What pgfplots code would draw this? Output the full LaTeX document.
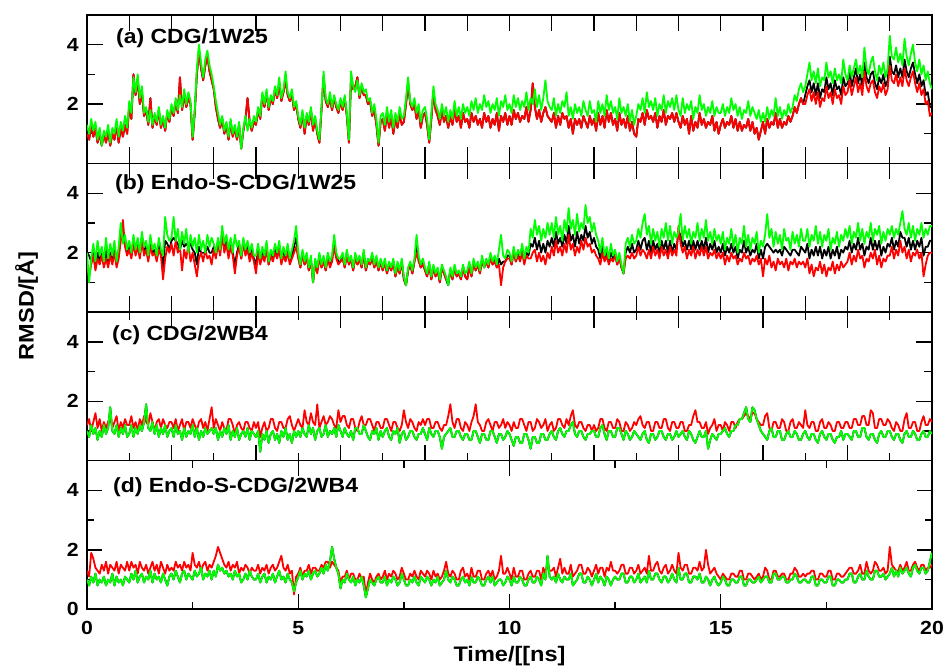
\documentclass[border=0pt]{standalone}
\usepackage{pgfplots}
\pgfplotsset{compat=1.18}
\usepackage{pgfplotstable}
\usepackage{fontspec}
\setmainfont{Liberation Sans}[FakeStretch=1.12]

\definecolor{rd}{RGB}{255,0,0}
\definecolor{gr}{RGB}{0,255,0}

% RMSD traces: one value every 0.05 ns from 0 to 20 ns (401 values each)
% ---------- (a) CDG/1W25 ----------
\pgfplotstableread[row sep=\\]{y\\
1.0\\ 0.8\\ 1.3\\ 0.9\\ 1.2\\ 0.7\\ 1.0\\ 0.6\\ 1.0\\ 0.7\\ 1.1\\ 0.6\\ 1.0\\ 0.8\\ 1.3\\ 0.7\\ 1.2\\ 0.9\\ 1.3\\ 1.0\\
1.9\\ 1.5\\ 3.0\\ 2.3\\ 2.8\\ 2.0\\ 2.4\\ 1.6\\ 1.8\\ 1.3\\ 2.2\\ 1.2\\ 1.6\\ 1.3\\ 1.8\\ 1.2\\ 1.5\\ 1.1\\ 1.7\\ 1.4\\
1.9\\ 1.6\\ 2.1\\ 1.7\\ 2.9\\ 1.8\\ 2.3\\ 1.9\\ 2.2\\ 2.0\\ 0.8\\ 1.7\\ 3.0\\ 3.8\\ 3.2\\ 2.8\\ 3.3\\ 3.6\\ 3.1\\ 2.8\\
2.5\\ 1.9\\ 1.5\\ 1.2\\ 1.5\\ 1.0\\ 1.3\\ 0.8\\ 1.4\\ 0.9\\ 1.2\\ 0.8\\ 1.3\\ 0.5\\ 1.1\\ 1.5\\ 2.2\\ 1.4\\ 1.1\\ 1.4\\
1.3\\ 1.8\\ 1.5\\ 2.3\\ 1.9\\ 2.4\\ 1.8\\ 2.2\\ 2.0\\ 2.5\\ 2.2\\ 2.7\\ 2.1\\ 2.4\\ 2.8\\ 2.3\\ 2.1\\ 2.3\\ 1.8\\ 2.0\\
1.5\\ 1.2\\ 1.7\\ 1.0\\ 1.6\\ 1.3\\ 1.8\\ 1.1\\ 1.5\\ 1.0\\ 0.7\\ 1.8\\ 2.9\\ 2.1\\ 1.9\\ 2.2\\ 1.8\\ 2.2\\ 1.9\\ 1.7\\
2.1\\ 1.8\\ 2.2\\ 1.6\\ 0.7\\ 2.9\\ 2.5\\ 2.6\\ 2.9\\ 2.2\\ 2.6\\ 2.3\\ 2.3\\ 2.0\\ 2.1\\ 1.6\\ 1.8\\ 1.3\\ 0.6\\ 1.4\\
1.5\\ 1.1\\ 1.7\\ 1.2\\ 1.6\\ 1.0\\ 1.5\\ 1.2\\ 1.7\\ 1.3\\ 1.4\\ 2.0\\ 2.7\\ 2.0\\ 1.8\\ 2.0\\ 1.5\\ 1.8\\ 1.2\\ 1.6\\
1.7\\ 1.3\\ 0.7\\ 1.5\\ 2.4\\ 1.8\\ 1.6\\ 1.3\\ 1.8\\ 1.4\\ 1.6\\ 1.2\\ 1.6\\ 1.3\\ 1.8\\ 1.4\\ 1.6\\ 1.2\\ 1.7\\ 1.4\\
1.5\\ 1.2\\ 1.7\\ 1.4\\ 1.6\\ 1.3\\ 1.5\\ 1.2\\ 1.7\\ 1.4\\ 1.6\\ 1.2\\ 1.5\\ 1.3\\ 1.7\\ 1.1\\ 1.6\\ 1.4\\ 1.7\\ 1.3\\
1.6\\ 1.3\\ 1.8\\ 1.5\\ 1.7\\ 1.4\\ 1.6\\ 1.5\\ 1.9\\ 1.4\\ 1.8\\ 2.7\\ 1.9\\ 1.5\\ 1.8\\ 1.4\\ 1.7\\ 1.9\\ 1.6\\ 1.5\\
1.4\\ 1.7\\ 1.2\\ 1.6\\ 1.3\\ 1.7\\ 1.5\\ 1.6\\ 1.2\\ 1.5\\ 1.0\\ 1.5\\ 1.3\\ 1.5\\ 1.2\\ 1.6\\ 1.4\\ 1.2\\ 1.6\\ 1.3\\
1.5\\ 1.1\\ 1.7\\ 1.3\\ 1.6\\ 1.2\\ 1.8\\ 1.4\\ 1.7\\ 1.3\\ 1.5\\ 1.1\\ 1.7\\ 1.3\\ 1.5\\ 1.2\\ 1.6\\ 1.1\\ 1.4\\ 1.0\\
0.9\\ 1.5\\ 1.4\\ 1.7\\ 1.3\\ 1.8\\ 1.5\\ 1.6\\ 1.4\\ 1.7\\ 1.2\\ 1.6\\ 1.4\\ 1.8\\ 1.3\\ 1.6\\ 1.5\\ 1.7\\ 1.4\\ 1.7\\
1.4\\ 1.2\\ 1.6\\ 1.3\\ 1.5\\ 1.0\\ 1.6\\ 1.1\\ 1.4\\ 1.2\\ 1.7\\ 1.3\\ 1.5\\ 1.2\\ 1.4\\ 1.3\\ 1.6\\ 1.1\\ 1.4\\ 1.0\\
1.3\\ 1.5\\ 1.2\\ 1.4\\ 1.3\\ 1.6\\ 1.2\\ 1.5\\ 1.1\\ 1.4\\ 1.1\\ 1.3\\ 1.2\\ 1.5\\ 1.1\\ 1.4\\ 1.0\\ 1.2\\ 0.8\\ 1.1\\
1.4\\ 1.0\\ 1.5\\ 1.2\\ 1.4\\ 1.3\\ 1.7\\ 1.2\\ 1.5\\ 1.2\\ 1.4\\ 1.3\\ 1.6\\ 1.4\\ 1.6\\ 1.9\\ 1.7\\ 2.0\\ 2.2\\ 2.0\\
2.3\\ 2.6\\ 2.8\\ 2.4\\ 2.7\\ 2.3\\ 2.7\\ 2.2\\ 2.5\\ 2.4\\ 2.9\\ 2.5\\ 2.7\\ 2.3\\ 2.8\\ 2.5\\ 2.6\\ 2.3\\ 2.9\\ 2.6\\
2.7\\ 3.1\\ 2.6\\ 2.9\\ 3.2\\ 2.7\\ 3.0\\ 2.6\\ 3.4\\ 2.9\\ 2.7\\ 3.0\\ 3.1\\ 2.7\\ 2.5\\ 2.9\\ 2.7\\ 3.0\\ 2.6\\ 2.8\\
3.6\\ 3.1\\ 3.0\\ 3.3\\ 2.9\\ 3.2\\ 2.9\\ 3.5\\ 3.1\\ 2.9\\ 3.2\\ 3.4\\ 3.0\\ 2.7\\ 3.0\\ 2.6\\ 2.8\\ 2.3\\ 2.4\\ 1.9\\
1.9\\}\aK
\pgfplotstableread[row sep=\\]{y\\
1.0\\ 0.8\\ 1.3\\ 0.9\\ 1.2\\ 0.7\\ 1.0\\ 0.6\\ 1.0\\ 0.7\\ 1.1\\ 0.6\\ 1.0\\ 0.8\\ 1.3\\ 0.7\\ 1.2\\ 0.9\\ 1.3\\ 1.0\\
1.9\\ 1.5\\ 3.0\\ 2.3\\ 2.8\\ 2.0\\ 2.4\\ 1.6\\ 1.8\\ 1.3\\ 2.2\\ 1.2\\ 1.6\\ 1.3\\ 1.8\\ 1.2\\ 1.5\\ 1.1\\ 1.7\\ 1.4\\
1.9\\ 1.6\\ 2.1\\ 1.7\\ 2.9\\ 1.8\\ 2.3\\ 1.9\\ 2.2\\ 2.0\\ 0.8\\ 1.7\\ 3.0\\ 3.8\\ 3.2\\ 2.8\\ 3.3\\ 3.6\\ 3.1\\ 2.8\\
2.5\\ 1.9\\ 1.5\\ 1.2\\ 1.5\\ 1.0\\ 1.3\\ 0.8\\ 1.4\\ 0.9\\ 1.2\\ 0.8\\ 1.3\\ 0.5\\ 1.1\\ 1.5\\ 2.2\\ 1.4\\ 1.1\\ 1.4\\
1.3\\ 1.8\\ 1.5\\ 2.3\\ 1.9\\ 2.4\\ 1.8\\ 2.2\\ 2.0\\ 2.5\\ 2.2\\ 2.7\\ 2.1\\ 2.4\\ 2.8\\ 2.3\\ 2.1\\ 2.3\\ 1.8\\ 2.0\\
1.5\\ 1.2\\ 1.7\\ 1.0\\ 1.6\\ 1.3\\ 1.8\\ 1.1\\ 1.5\\ 1.0\\ 0.7\\ 1.8\\ 2.9\\ 2.1\\ 1.9\\ 2.2\\ 1.8\\ 2.2\\ 1.9\\ 1.7\\
2.1\\ 1.8\\ 2.2\\ 1.6\\ 0.7\\ 2.9\\ 2.5\\ 2.6\\ 2.9\\ 2.2\\ 2.6\\ 2.3\\ 2.3\\ 2.0\\ 2.1\\ 1.6\\ 1.8\\ 1.3\\ 0.6\\ 1.4\\
1.5\\ 1.1\\ 1.7\\ 1.2\\ 1.6\\ 1.0\\ 1.5\\ 1.2\\ 1.7\\ 1.3\\ 1.4\\ 2.0\\ 2.7\\ 2.0\\ 1.8\\ 2.0\\ 1.5\\ 1.8\\ 1.2\\ 1.6\\
1.7\\ 1.3\\ 0.7\\ 1.5\\ 2.4\\ 1.8\\ 1.6\\ 1.3\\ 1.8\\ 1.4\\ 1.6\\ 1.2\\ 1.6\\ 1.3\\ 1.8\\ 1.4\\ 1.6\\ 1.2\\ 1.7\\ 1.4\\
1.5\\ 1.2\\ 1.7\\ 1.4\\ 1.6\\ 1.3\\ 1.5\\ 1.2\\ 1.7\\ 1.4\\ 1.6\\ 1.2\\ 1.5\\ 1.3\\ 1.7\\ 1.1\\ 1.6\\ 1.4\\ 1.7\\ 1.3\\
1.6\\ 1.3\\ 1.8\\ 1.5\\ 1.7\\ 1.4\\ 1.6\\ 1.5\\ 1.9\\ 1.4\\ 1.8\\ 2.7\\ 1.9\\ 1.5\\ 1.8\\ 1.4\\ 1.7\\ 1.9\\ 1.6\\ 1.5\\
1.4\\ 1.7\\ 1.2\\ 1.6\\ 1.3\\ 1.7\\ 1.5\\ 1.6\\ 1.2\\ 1.5\\ 1.0\\ 1.5\\ 1.3\\ 1.5\\ 1.2\\ 1.6\\ 1.4\\ 1.2\\ 1.6\\ 1.3\\
1.5\\ 1.1\\ 1.7\\ 1.3\\ 1.6\\ 1.2\\ 1.8\\ 1.4\\ 1.7\\ 1.3\\ 1.5\\ 1.1\\ 1.7\\ 1.3\\ 1.5\\ 1.2\\ 1.6\\ 1.1\\ 1.4\\ 1.0\\
0.9\\ 1.5\\ 1.4\\ 1.7\\ 1.3\\ 1.8\\ 1.5\\ 1.6\\ 1.4\\ 1.7\\ 1.2\\ 1.6\\ 1.4\\ 1.8\\ 1.3\\ 1.6\\ 1.5\\ 1.7\\ 1.4\\ 1.7\\
1.4\\ 1.2\\ 1.6\\ 1.3\\ 1.5\\ 1.0\\ 1.6\\ 1.1\\ 1.4\\ 1.2\\ 1.7\\ 1.3\\ 1.5\\ 1.2\\ 1.4\\ 1.3\\ 1.6\\ 1.1\\ 1.4\\ 1.0\\
1.3\\ 1.5\\ 1.2\\ 1.4\\ 1.3\\ 1.6\\ 1.2\\ 1.5\\ 1.1\\ 1.4\\ 1.1\\ 1.3\\ 1.2\\ 1.5\\ 1.1\\ 1.4\\ 1.0\\ 1.2\\ 0.8\\ 1.1\\
1.4\\ 1.0\\ 1.5\\ 1.2\\ 1.4\\ 1.3\\ 1.7\\ 1.2\\ 1.5\\ 1.2\\ 1.4\\ 1.3\\ 1.6\\ 1.4\\ 1.6\\ 1.9\\ 1.7\\ 2.0\\ 2.2\\ 2.0\\
2.0\\ 2.3\\ 2.5\\ 2.1\\ 2.4\\ 2.0\\ 2.4\\ 1.9\\ 2.2\\ 2.1\\ 2.6\\ 2.2\\ 2.4\\ 2.0\\ 2.5\\ 2.2\\ 2.3\\ 2.0\\ 2.6\\ 2.3\\
2.4\\ 2.8\\ 2.3\\ 2.6\\ 2.9\\ 2.4\\ 2.7\\ 2.3\\ 3.1\\ 2.6\\ 2.4\\ 2.7\\ 2.8\\ 2.4\\ 2.2\\ 2.6\\ 2.4\\ 2.7\\ 2.3\\ 2.5\\
3.3\\ 2.8\\ 2.7\\ 3.0\\ 2.6\\ 2.9\\ 2.6\\ 3.2\\ 2.8\\ 2.6\\ 2.9\\ 3.1\\ 2.7\\ 2.4\\ 2.7\\ 2.3\\ 2.5\\ 2.0\\ 2.1\\ 1.6\\
1.7\\}\aR
\pgfplotstableread[row sep=\\]{y\\
1.3\\ 1.0\\ 1.5\\ 1.1\\ 1.4\\ 0.8\\ 1.2\\ 0.6\\ 1.1\\ 0.9\\ 1.3\\ 0.7\\ 1.2\\ 1.0\\ 1.5\\ 0.9\\ 1.4\\ 1.1\\ 1.6\\ 1.2\\
2.1\\ 1.7\\ 2.9\\ 2.4\\ 3.0\\ 2.2\\ 2.6\\ 1.7\\ 1.9\\ 1.4\\ 1.8\\ 1.3\\ 1.7\\ 1.4\\ 1.9\\ 1.3\\ 1.6\\ 1.2\\ 1.8\\ 1.5\\
2.0\\ 1.7\\ 2.2\\ 1.8\\ 2.3\\ 1.9\\ 2.5\\ 2.0\\ 2.4\\ 2.1\\ 0.9\\ 1.8\\ 3.2\\ 4.0\\ 3.4\\ 2.9\\ 3.5\\ 3.8\\ 3.3\\ 3.0\\
2.6\\ 2.1\\ 1.7\\ 1.3\\ 1.6\\ 1.1\\ 1.4\\ 0.9\\ 1.5\\ 1.0\\ 1.3\\ 0.9\\ 1.4\\ 0.5\\ 1.2\\ 1.6\\ 1.1\\ 1.5\\ 1.2\\ 1.6\\
1.4\\ 1.9\\ 1.6\\ 2.4\\ 2.0\\ 2.5\\ 1.9\\ 2.3\\ 2.1\\ 2.6\\ 2.3\\ 2.9\\ 2.2\\ 2.5\\ 3.1\\ 2.4\\ 2.2\\ 2.5\\ 1.9\\ 2.1\\
1.6\\ 1.3\\ 1.8\\ 1.2\\ 1.7\\ 1.4\\ 1.9\\ 1.3\\ 1.6\\ 1.1\\ 0.8\\ 1.9\\ 3.1\\ 2.2\\ 2.0\\ 2.4\\ 1.9\\ 2.3\\ 2.0\\ 1.8\\
2.2\\ 1.9\\ 2.3\\ 1.7\\ 0.8\\ 3.1\\ 2.6\\ 2.4\\ 2.8\\ 2.3\\ 2.7\\ 2.4\\ 2.5\\ 2.1\\ 2.2\\ 1.7\\ 2.0\\ 1.5\\ 0.7\\ 1.6\\
1.7\\ 1.3\\ 1.9\\ 1.4\\ 1.8\\ 1.2\\ 1.7\\ 1.4\\ 1.9\\ 1.5\\ 1.6\\ 2.2\\ 2.9\\ 2.1\\ 1.9\\ 2.2\\ 1.7\\ 2.0\\ 1.4\\ 1.8\\
1.9\\ 1.5\\ 0.8\\ 1.7\\ 2.6\\ 2.0\\ 1.8\\ 1.5\\ 2.0\\ 1.6\\ 1.9\\ 1.4\\ 1.8\\ 1.5\\ 2.1\\ 1.6\\ 1.9\\ 1.5\\ 2.0\\ 1.7\\
1.9\\ 1.6\\ 2.1\\ 1.8\\ 2.2\\ 1.7\\ 2.0\\ 1.8\\ 2.3\\ 1.9\\ 2.1\\ 1.7\\ 2.0\\ 1.8\\ 2.2\\ 1.6\\ 2.1\\ 1.9\\ 2.3\\ 1.8\\
2.0\\ 1.7\\ 2.3\\ 1.9\\ 2.2\\ 1.8\\ 2.1\\ 1.9\\ 2.4\\ 1.8\\ 2.2\\ 2.0\\ 2.5\\ 1.9\\ 2.3\\ 1.8\\ 2.2\\ 2.8\\ 2.1\\ 1.9\\
1.8\\ 2.2\\ 1.6\\ 2.0\\ 1.7\\ 2.1\\ 1.9\\ 2.4\\ 1.6\\ 1.9\\ 1.5\\ 2.0\\ 1.7\\ 1.9\\ 1.6\\ 2.1\\ 1.8\\ 1.6\\ 2.1\\ 1.7\\
1.8\\ 1.4\\ 2.1\\ 1.7\\ 2.0\\ 1.6\\ 2.3\\ 1.8\\ 2.1\\ 1.7\\ 1.9\\ 1.5\\ 2.2\\ 1.7\\ 1.9\\ 1.6\\ 2.0\\ 1.4\\ 1.8\\ 1.3\\
1.6\\ 2.0\\ 1.8\\ 2.2\\ 1.7\\ 2.4\\ 1.9\\ 2.1\\ 1.8\\ 2.2\\ 1.6\\ 2.0\\ 1.8\\ 2.3\\ 1.7\\ 2.1\\ 1.9\\ 2.2\\ 1.8\\ 2.3\\
1.8\\ 1.6\\ 2.2\\ 1.7\\ 2.0\\ 1.8\\ 2.1\\ 1.5\\ 1.9\\ 1.7\\ 2.3\\ 1.8\\ 2.0\\ 1.6\\ 1.9\\ 1.7\\ 2.1\\ 1.6\\ 1.9\\ 1.7\\
1.7\\ 2.0\\ 1.6\\ 1.9\\ 1.7\\ 2.2\\ 1.8\\ 2.0\\ 1.6\\ 1.9\\ 1.5\\ 1.8\\ 1.7\\ 2.1\\ 1.6\\ 1.9\\ 1.7\\ 1.5\\ 1.8\\ 1.4\\
1.7\\ 1.4\\ 1.9\\ 1.5\\ 1.8\\ 1.6\\ 2.2\\ 1.6\\ 1.9\\ 1.5\\ 1.8\\ 1.6\\ 2.0\\ 1.7\\ 1.9\\ 2.3\\ 2.1\\ 2.5\\ 2.7\\ 2.4\\
2.6\\ 3.0\\ 3.4\\ 2.8\\ 3.1\\ 2.7\\ 3.2\\ 2.6\\ 2.9\\ 2.8\\ 3.4\\ 2.9\\ 3.1\\ 2.7\\ 3.2\\ 2.8\\ 3.0\\ 2.7\\ 3.5\\ 3.0\\
2.8\\ 3.3\\ 2.9\\ 3.2\\ 3.5\\ 3.0\\ 3.3\\ 2.9\\ 3.9\\ 3.2\\ 3.0\\ 3.4\\ 3.6\\ 3.1\\ 2.8\\ 3.3\\ 3.0\\ 3.4\\ 2.9\\ 3.2\\
4.3\\ 3.6\\ 3.5\\ 3.9\\ 3.4\\ 3.7\\ 3.3\\ 4.2\\ 3.6\\ 3.3\\ 3.7\\ 4.0\\ 3.4\\ 3.1\\ 3.5\\ 3.0\\ 3.3\\ 2.8\\ 3.1\\ 2.7\\
2.5\\}\aG

% ---------- (b) Endo-S-CDG/1W25 ----------
\pgfplotstableread[row sep=\\]{y\\
2.0\\ 1.9\\ 1.7\\ 2.1\\ 1.5\\ 2.0\\ 1.7\\ 2.0\\ 1.6\\ 2.1\\ 1.6\\ 2.0\\ 1.7\\ 2.2\\ 1.6\\ 2.0\\ 2.6\\ 2.6\\ 2.3\\ 2.0\\
2.2\\ 1.9\\ 2.4\\ 2.0\\ 2.3\\ 1.9\\ 2.5\\ 2.0\\ 2.2\\ 1.8\\ 2.4\\ 2.0\\ 2.1\\ 1.8\\ 2.3\\ 2.0\\ 1.5\\ 2.4\\ 2.3\\ 2.1\\
2.4\\ 2.5\\ 2.4\\ 2.3\\ 2.1\\ 2.4\\ 2.2\\ 2.3\\ 2.2\\ 2.3\\ 2.1\\ 2.0\\ 1.6\\ 2.2\\ 2.0\\ 2.0\\ 2.0\\ 2.2\\ 2.0\\ 2.0\\
2.2\\ 1.9\\ 2.4\\ 2.0\\ 2.7\\ 2.1\\ 2.4\\ 1.9\\ 2.3\\ 2.0\\ 1.6\\ 2.0\\ 2.3\\ 1.8\\ 2.4\\ 2.0\\ 2.2\\ 1.8\\ 2.1\\ 1.8\\
1.6\\ 2.1\\ 1.7\\ 2.0\\ 1.8\\ 2.2\\ 1.6\\ 2.0\\ 1.8\\ 2.1\\ 1.9\\ 2.2\\ 1.7\\ 2.0\\ 1.8\\ 2.1\\ 1.7\\ 1.9\\ 2.2\\ 2.5\\
1.9\\ 1.5\\ 2.0\\ 1.6\\ 1.9\\ 1.4\\ 1.8\\ 1.0\\ 1.7\\ 1.4\\ 1.9\\ 1.5\\ 1.8\\ 1.4\\ 1.9\\ 1.6\\ 1.8\\ 2.4\\ 1.9\\ 1.7\\
1.7\\ 1.9\\ 1.5\\ 2.0\\ 1.6\\ 1.8\\ 1.4\\ 1.9\\ 1.6\\ 1.8\\ 1.5\\ 2.0\\ 1.4\\ 1.7\\ 1.6\\ 1.9\\ 1.5\\ 1.8\\ 1.4\\ 1.7\\
1.4\\ 1.7\\ 1.3\\ 1.6\\ 1.4\\ 1.7\\ 1.2\\ 1.6\\ 1.3\\ 1.7\\ 1.1\\ 0.9\\ 1.4\\ 1.6\\ 1.3\\ 1.7\\ 2.3\\ 1.8\\ 1.5\\ 1.7\\
1.4\\ 1.2\\ 1.6\\ 1.1\\ 1.5\\ 1.2\\ 1.4\\ 1.0\\ 1.5\\ 1.3\\ 1.1\\ 0.9\\ 1.4\\ 1.1\\ 1.5\\ 1.2\\ 1.3\\ 1.1\\ 1.5\\ 1.2\\
1.1\\ 1.6\\ 1.2\\ 1.7\\ 1.4\\ 1.6\\ 1.3\\ 1.8\\ 1.5\\ 1.7\\ 1.5\\ 1.9\\ 1.6\\ 1.8\\ 1.5\\ 1.8\\ 1.6\\ 1.7\\ 1.7\\ 1.9\\
1.9\\ 1.6\\ 2.1\\ 1.7\\ 2.0\\ 1.8\\ 2.1\\ 1.7\\ 2.0\\ 1.9\\ 2.3\\ 2.2\\ 2.5\\ 2.1\\ 2.4\\ 2.0\\ 2.3\\ 2.0\\ 2.4\\ 2.2\\
2.5\\ 2.2\\ 2.7\\ 2.3\\ 2.5\\ 2.2\\ 2.6\\ 2.3\\ 2.9\\ 2.4\\ 2.6\\ 2.2\\ 2.7\\ 2.3\\ 2.6\\ 2.4\\ 2.9\\ 2.5\\ 2.7\\ 2.3\\
2.5\\ 2.2\\ 2.1\\ 1.8\\ 2.2\\ 1.8\\ 2.0\\ 1.7\\ 2.0\\ 1.8\\ 2.0\\ 1.6\\ 1.9\\ 1.5\\ 1.3\\ 2.0\\ 2.2\\ 2.0\\ 2.3\\ 2.0\\
2.1\\ 2.4\\ 2.1\\ 2.4\\ 2.5\\ 2.1\\ 2.4\\ 2.0\\ 2.4\\ 2.1\\ 2.3\\ 2.0\\ 2.4\\ 2.1\\ 2.4\\ 2.0\\ 2.4\\ 2.0\\ 2.3\\ 2.1\\
2.7\\ 2.6\\ 2.2\\ 2.4\\ 2.1\\ 2.4\\ 2.1\\ 2.4\\ 2.1\\ 2.4\\ 2.1\\ 2.4\\ 2.1\\ 2.5\\ 2.0\\ 2.3\\ 2.1\\ 2.4\\ 2.0\\ 2.2\\
2.0\\ 2.3\\ 1.9\\ 2.2\\ 2.0\\ 2.3\\ 2.0\\ 2.2\\ 1.8\\ 2.1\\ 2.0\\ 2.4\\ 2.0\\ 2.2\\ 1.9\\ 2.1\\ 2.0\\ 2.3\\ 1.8\\ 2.1\\
1.8\\ 2.2\\ 2.3\\ 2.2\\ 2.1\\ 2.0\\ 2.1\\ 2.0\\ 2.1\\ 1.9\\ 2.2\\ 2.1\\ 2.0\\ 1.9\\ 2.1\\ 2.1\\ 2.0\\ 1.9\\ 2.2\\ 2.1\\
2.0\\ 2.3\\ 1.8\\ 2.1\\ 1.9\\ 2.2\\ 1.9\\ 2.2\\ 1.8\\ 2.1\\ 1.9\\ 2.2\\ 1.8\\ 2.1\\ 1.9\\ 2.2\\ 1.8\\ 2.1\\ 2.0\\ 2.2\\
2.1\\ 2.4\\ 2.0\\ 2.3\\ 2.1\\ 2.5\\ 2.1\\ 2.3\\ 1.9\\ 2.2\\ 2.1\\ 2.5\\ 2.1\\ 2.4\\ 2.1\\ 2.4\\ 1.9\\ 2.2\\ 2.0\\ 2.3\\
2.2\\ 2.5\\ 2.1\\ 2.4\\ 2.2\\ 2.7\\ 2.5\\ 2.5\\ 2.2\\ 2.5\\ 2.1\\ 2.4\\ 2.1\\ 2.4\\ 2.2\\ 2.5\\ 1.9\\ 2.2\\ 2.2\\ 2.4\\
2.4\\}\bK
\pgfplotstableread[row sep=\\]{y\\
1.5\\ 1.2\\ 1.6\\ 1.9\\ 1.4\\ 1.8\\ 1.6\\ 1.9\\ 1.5\\ 1.8\\ 1.5\\ 1.9\\ 1.6\\ 2.0\\ 1.5\\ 1.8\\ 2.4\\ 3.1\\ 2.2\\ 1.9\\
2.1\\ 1.8\\ 2.3\\ 1.9\\ 2.2\\ 1.8\\ 2.4\\ 1.9\\ 2.1\\ 1.7\\ 2.2\\ 1.9\\ 2.0\\ 1.7\\ 2.1\\ 1.9\\ 1.1\\ 1.8\\ 2.2\\ 2.0\\
2.3\\ 1.9\\ 2.4\\ 2.0\\ 2.2\\ 1.4\\ 2.1\\ 1.8\\ 2.3\\ 1.7\\ 2.0\\ 1.6\\ 1.2\\ 1.8\\ 2.0\\ 1.7\\ 2.1\\ 1.8\\ 1.9\\ 1.6\\
2.1\\ 1.8\\ 2.3\\ 1.9\\ 2.6\\ 2.0\\ 2.3\\ 1.8\\ 2.2\\ 1.9\\ 1.3\\ 1.9\\ 2.2\\ 1.8\\ 2.3\\ 1.9\\ 2.1\\ 1.7\\ 2.0\\ 1.7\\
1.3\\ 2.0\\ 1.6\\ 1.9\\ 1.7\\ 2.1\\ 1.6\\ 1.9\\ 1.7\\ 2.0\\ 1.8\\ 2.1\\ 1.6\\ 1.9\\ 1.7\\ 2.0\\ 1.6\\ 1.8\\ 2.0\\ 2.2\\
1.8\\ 1.5\\ 1.9\\ 1.6\\ 1.8\\ 1.4\\ 1.7\\ 1.0\\ 1.6\\ 1.3\\ 1.8\\ 1.5\\ 1.7\\ 1.4\\ 1.8\\ 1.5\\ 1.7\\ 2.2\\ 1.8\\ 1.6\\
1.7\\ 1.8\\ 1.5\\ 1.9\\ 1.6\\ 1.8\\ 1.4\\ 1.8\\ 1.6\\ 1.8\\ 1.5\\ 1.9\\ 1.4\\ 1.7\\ 1.6\\ 1.8\\ 1.5\\ 1.7\\ 1.4\\ 1.7\\
1.4\\ 1.7\\ 1.3\\ 1.6\\ 1.4\\ 1.7\\ 1.2\\ 1.5\\ 1.3\\ 1.7\\ 1.1\\ 0.9\\ 1.4\\ 1.6\\ 1.3\\ 1.7\\ 2.0\\ 1.7\\ 1.5\\ 1.6\\
1.4\\ 1.2\\ 1.6\\ 1.1\\ 1.5\\ 1.2\\ 1.4\\ 1.0\\ 1.5\\ 1.3\\ 1.1\\ 1.0\\ 1.4\\ 1.1\\ 1.5\\ 1.2\\ 1.3\\ 1.1\\ 1.5\\ 1.2\\
1.1\\ 1.5\\ 1.2\\ 1.6\\ 1.4\\ 1.6\\ 1.3\\ 1.7\\ 1.5\\ 1.7\\ 1.5\\ 1.8\\ 1.6\\ 1.7\\ 1.5\\ 1.6\\ 0.9\\ 1.5\\ 1.7\\ 1.8\\
1.8\\ 1.6\\ 2.0\\ 1.7\\ 1.9\\ 1.7\\ 2.0\\ 1.6\\ 1.9\\ 1.8\\ 1.8\\ 2.0\\ 2.1\\ 1.7\\ 2.0\\ 1.7\\ 1.9\\ 1.6\\ 2.0\\ 1.8\\
2.2\\ 1.9\\ 2.4\\ 2.0\\ 2.2\\ 1.9\\ 2.3\\ 2.0\\ 2.6\\ 2.1\\ 2.3\\ 1.9\\ 2.2\\ 2.0\\ 2.4\\ 2.1\\ 2.5\\ 2.2\\ 2.3\\ 2.0\\
2.1\\ 1.9\\ 1.8\\ 1.6\\ 2.0\\ 1.7\\ 1.9\\ 1.6\\ 1.8\\ 1.7\\ 1.9\\ 1.6\\ 1.8\\ 1.5\\ 1.3\\ 1.8\\ 1.9\\ 1.8\\ 2.0\\ 1.8\\
1.9\\ 2.2\\ 1.9\\ 2.1\\ 2.0\\ 1.8\\ 2.1\\ 1.8\\ 2.2\\ 1.9\\ 2.1\\ 1.8\\ 2.2\\ 1.9\\ 2.1\\ 1.8\\ 2.2\\ 1.9\\ 2.1\\ 1.9\\
2.9\\ 2.3\\ 2.0\\ 2.2\\ 1.8\\ 2.1\\ 1.9\\ 2.2\\ 1.8\\ 2.1\\ 1.9\\ 2.2\\ 1.9\\ 2.2\\ 1.8\\ 2.0\\ 1.9\\ 2.1\\ 1.8\\ 2.0\\
1.8\\ 2.0\\ 1.6\\ 1.9\\ 1.7\\ 2.0\\ 1.8\\ 1.9\\ 1.6\\ 1.8\\ 1.7\\ 2.0\\ 1.8\\ 1.9\\ 1.6\\ 1.8\\ 1.7\\ 1.9\\ 1.6\\ 1.8\\
1.2\\ 1.8\\ 1.6\\ 1.9\\ 1.5\\ 1.7\\ 1.4\\ 1.8\\ 1.6\\ 1.7\\ 1.5\\ 1.8\\ 1.4\\ 1.7\\ 1.6\\ 1.8\\ 1.5\\ 1.7\\ 1.6\\ 1.7\\
1.5\\ 1.8\\ 1.3\\ 1.6\\ 1.2\\ 1.5\\ 1.4\\ 1.7\\ 1.3\\ 1.6\\ 1.2\\ 1.5\\ 1.4\\ 1.7\\ 1.3\\ 1.6\\ 1.4\\ 1.7\\ 1.5\\ 1.6\\
1.7\\ 2.0\\ 1.6\\ 1.9\\ 1.7\\ 2.1\\ 1.8\\ 1.9\\ 1.5\\ 1.8\\ 1.7\\ 2.0\\ 1.8\\ 2.1\\ 1.6\\ 1.9\\ 1.5\\ 1.8\\ 1.7\\ 1.9\\
1.9\\ 2.2\\ 1.8\\ 2.1\\ 1.9\\ 2.4\\ 2.0\\ 2.2\\ 1.8\\ 2.1\\ 1.7\\ 2.0\\ 1.9\\ 2.1\\ 1.8\\ 2.0\\ 1.2\\ 1.6\\ 1.9\\ 2.0\\
2.0\\}\bR
\pgfplotstableread[row sep=\\]{y\\
2.0\\ 1.0\\ 1.8\\ 2.3\\ 1.7\\ 2.4\\ 1.9\\ 2.2\\ 1.7\\ 2.5\\ 1.8\\ 2.3\\ 1.9\\ 2.4\\ 1.7\\ 2.2\\ 3.0\\ 2.3\\ 2.6\\ 2.1\\
2.4\\ 2.0\\ 2.6\\ 2.1\\ 2.5\\ 2.0\\ 2.7\\ 2.2\\ 2.4\\ 1.9\\ 2.6\\ 2.1\\ 2.3\\ 1.9\\ 2.5\\ 2.1\\ 1.9\\ 3.2\\ 2.6\\ 2.4\\
2.5\\ 3.2\\ 2.4\\ 2.8\\ 2.1\\ 2.7\\ 2.3\\ 2.8\\ 2.0\\ 2.6\\ 2.2\\ 2.5\\ 2.0\\ 2.6\\ 2.1\\ 2.4\\ 2.0\\ 2.6\\ 2.2\\ 2.5\\
2.3\\ 2.0\\ 2.5\\ 2.1\\ 2.9\\ 2.3\\ 2.6\\ 2.1\\ 2.5\\ 2.0\\ 2.6\\ 2.2\\ 2.4\\ 1.9\\ 2.5\\ 2.1\\ 2.4\\ 2.0\\ 2.3\\ 1.9\\
1.9\\ 2.3\\ 1.8\\ 2.2\\ 1.9\\ 2.4\\ 1.7\\ 2.1\\ 1.9\\ 2.3\\ 2.0\\ 2.4\\ 1.8\\ 2.2\\ 1.9\\ 2.3\\ 1.8\\ 2.1\\ 2.4\\ 2.9\\
2.0\\ 1.6\\ 2.1\\ 1.7\\ 2.0\\ 1.5\\ 1.9\\ 1.0\\ 1.8\\ 1.5\\ 2.0\\ 1.6\\ 1.9\\ 1.5\\ 2.0\\ 1.7\\ 1.9\\ 2.6\\ 2.0\\ 1.8\\
1.8\\ 2.0\\ 1.6\\ 2.1\\ 1.7\\ 1.9\\ 1.5\\ 2.0\\ 1.7\\ 1.9\\ 1.6\\ 2.1\\ 1.5\\ 1.8\\ 1.7\\ 2.0\\ 1.6\\ 1.9\\ 1.5\\ 1.8\\
1.5\\ 1.8\\ 1.4\\ 1.7\\ 1.5\\ 1.8\\ 1.3\\ 1.7\\ 1.4\\ 1.8\\ 1.2\\ 0.9\\ 1.5\\ 1.7\\ 1.4\\ 1.8\\ 2.6\\ 1.9\\ 1.6\\ 1.8\\
1.5\\ 1.3\\ 1.7\\ 1.2\\ 1.6\\ 1.3\\ 1.5\\ 1.1\\ 1.6\\ 1.4\\ 1.2\\ 0.9\\ 1.5\\ 1.2\\ 1.6\\ 1.3\\ 1.4\\ 1.2\\ 1.6\\ 1.3\\
1.4\\ 1.7\\ 1.3\\ 1.8\\ 1.5\\ 1.7\\ 1.4\\ 1.9\\ 1.5\\ 1.8\\ 1.6\\ 2.0\\ 1.7\\ 1.9\\ 1.6\\ 2.1\\ 2.6\\ 1.9\\ 1.8\\ 2.1\\
2.0\\ 1.7\\ 2.2\\ 1.8\\ 2.1\\ 1.9\\ 2.3\\ 1.8\\ 2.2\\ 2.0\\ 2.8\\ 2.5\\ 3.1\\ 2.6\\ 2.9\\ 2.4\\ 2.8\\ 2.5\\ 3.0\\ 2.6\\
3.0\\ 2.5\\ 3.2\\ 2.6\\ 2.9\\ 2.4\\ 3.1\\ 2.7\\ 3.5\\ 2.8\\ 3.1\\ 2.6\\ 3.3\\ 2.7\\ 3.0\\ 2.8\\ 3.6\\ 3.0\\ 3.2\\ 2.7\\
3.0\\ 2.6\\ 2.4\\ 2.0\\ 2.5\\ 1.9\\ 2.2\\ 1.8\\ 2.3\\ 1.9\\ 2.1\\ 1.7\\ 2.0\\ 1.6\\ 1.3\\ 2.3\\ 2.5\\ 2.2\\ 2.6\\ 2.3\\
2.4\\ 2.8\\ 2.5\\ 3.0\\ 3.3\\ 2.6\\ 2.9\\ 2.3\\ 2.8\\ 2.4\\ 2.7\\ 2.2\\ 2.8\\ 2.5\\ 3.0\\ 2.4\\ 2.9\\ 2.3\\ 2.7\\ 2.5\\
2.7\\ 3.3\\ 2.4\\ 2.9\\ 2.5\\ 2.8\\ 2.3\\ 2.7\\ 2.5\\ 3.0\\ 2.4\\ 2.8\\ 2.5\\ 3.1\\ 2.4\\ 2.7\\ 2.3\\ 2.8\\ 2.4\\ 2.6\\
2.3\\ 2.7\\ 2.1\\ 2.5\\ 2.3\\ 2.8\\ 2.2\\ 2.6\\ 2.0\\ 2.5\\ 2.3\\ 2.9\\ 2.2\\ 2.6\\ 2.1\\ 2.5\\ 2.3\\ 2.7\\ 2.0\\ 2.4\\
2.2\\ 2.6\\ 3.3\\ 2.5\\ 2.8\\ 2.2\\ 2.7\\ 2.3\\ 2.6\\ 2.1\\ 2.8\\ 2.4\\ 2.5\\ 2.1\\ 2.7\\ 2.3\\ 2.6\\ 2.2\\ 2.8\\ 2.4\\
2.4\\ 2.8\\ 2.2\\ 2.6\\ 2.4\\ 2.9\\ 2.3\\ 2.7\\ 2.2\\ 2.6\\ 2.4\\ 2.8\\ 2.1\\ 2.5\\ 2.3\\ 2.7\\ 2.2\\ 2.6\\ 2.4\\ 2.8\\
2.5\\ 2.9\\ 2.3\\ 2.7\\ 2.5\\ 3.0\\ 2.4\\ 2.8\\ 2.3\\ 2.7\\ 2.5\\ 3.0\\ 2.4\\ 2.8\\ 2.6\\ 2.9\\ 2.3\\ 2.7\\ 2.4\\ 2.8\\
2.6\\ 2.9\\ 2.5\\ 2.8\\ 2.6\\ 3.0\\ 3.4\\ 2.8\\ 2.6\\ 3.0\\ 2.5\\ 2.9\\ 2.4\\ 2.8\\ 2.6\\ 3.0\\ 2.5\\ 2.8\\ 2.6\\ 2.9\\
2.9\\}\bG

% ---------- (c) CDG/2WB4 ----------
\pgfplotstableread[row sep=\\]{y\\
1.0\\ 0.8\\ 1.2\\ 0.9\\ 1.1\\ 0.7\\ 1.0\\ 0.8\\ 1.2\\ 0.9\\ 1.1\\ 1.8\\ 1.0\\ 0.9\\ 1.2\\ 0.8\\ 1.1\\ 0.9\\ 1.2\\ 0.8\\
0.9\\ 1.2\\ 0.8\\ 1.1\\ 0.9\\ 1.2\\ 1.0\\ 1.3\\ 1.9\\ 1.1\\ 1.0\\ 1.3\\ 0.9\\ 1.2\\ 0.8\\ 1.1\\ 0.9\\ 1.2\\ 0.8\\ 1.0\\
1.1\\ 0.8\\ 1.2\\ 0.9\\ 1.0\\ 0.7\\ 1.1\\ 0.8\\ 1.0\\ 0.9\\ 1.2\\ 0.8\\ 1.1\\ 0.7\\ 1.0\\ 0.8\\ 1.1\\ 0.9\\ 1.0\\ 1.1\\
0.9\\ 1.1\\ 0.7\\ 1.0\\ 0.8\\ 1.1\\ 0.9\\ 1.2\\ 0.7\\ 1.0\\ 0.8\\ 1.1\\ 0.7\\ 0.9\\ 1.0\\ 0.8\\ 1.1\\ 0.7\\ 1.0\\ 0.9\\
0.8\\ 1.0\\ 0.3\\ 0.9\\ 0.7\\ 1.0\\ 0.6\\ 0.9\\ 1.0\\ 0.7\\ 0.9\\ 0.6\\ 1.0\\ 0.8\\ 1.1\\ 0.7\\ 0.9\\ 0.6\\ 1.0\\ 0.8\\
1.0\\ 0.8\\ 1.1\\ 0.9\\ 0.8\\ 1.2\\ 0.9\\ 1.1\\ 0.7\\ 1.0\\ 1.1\\ 0.8\\ 0.9\\ 1.2\\ 0.8\\ 1.0\\ 0.9\\ 1.1\\ 0.8\\ 1.2\\
1.0\\ 0.8\\ 1.1\\ 0.9\\ 0.8\\ 1.0\\ 0.7\\ 1.1\\ 1.1\\ 0.9\\ 0.9\\ 1.2\\ 1.0\\ 0.8\\ 0.7\\ 1.0\\ 0.9\\ 1.1\\ 0.7\\ 1.0\\
0.8\\ 1.0\\ 1.1\\ 0.8\\ 0.7\\ 1.0\\ 0.9\\ 1.1\\ 0.6\\ 0.9\\ 1.0\\ 0.7\\ 0.8\\ 1.0\\ 1.0\\ 0.8\\ 0.7\\ 0.9\\ 0.9\\ 1.1\\
0.9\\ 0.7\\ 1.1\\ 0.9\\ 0.8\\ 1.0\\ 1.0\\ 0.8\\ 0.4\\ 0.8\\ 0.9\\ 1.0\\ 1.1\\ 0.8\\ 0.8\\ 1.0\\ 1.0\\ 0.8\\ 0.7\\ 0.9\\
0.9\\ 0.7\\ 0.7\\ 1.0\\ 1.0\\ 0.8\\ 0.6\\ 0.9\\ 0.9\\ 0.7\\ 0.7\\ 1.0\\ 1.0\\ 0.8\\ 0.6\\ 0.9\\ 0.9\\ 0.7\\ 0.8\\ 1.0\\
0.9\\ 0.7\\ 0.5\\ 0.8\\ 0.8\\ 0.6\\ 0.6\\ 0.9\\ 0.9\\ 0.7\\ 0.4\\ 0.8\\ 0.8\\ 0.6\\ 0.6\\ 0.9\\ 0.9\\ 0.7\\ 0.7\\ 0.9\\
1.0\\ 0.8\\ 0.7\\ 1.0\\ 1.1\\ 0.9\\ 0.8\\ 1.0\\ 1.0\\ 1.2\\ 1.3\\ 0.9\\ 0.8\\ 1.0\\ 1.0\\ 0.8\\ 0.7\\ 0.9\\ 0.9\\ 1.0\\
1.0\\ 0.8\\ 0.8\\ 1.1\\ 1.2\\ 0.9\\ 0.7\\ 1.0\\ 1.0\\ 0.8\\ 0.8\\ 1.1\\ 1.1\\ 0.9\\ 0.7\\ 1.0\\ 0.9\\ 0.7\\ 0.8\\ 1.0\\
0.9\\ 0.8\\ 0.7\\ 0.9\\ 1.0\\ 0.7\\ 0.6\\ 0.9\\ 0.9\\ 0.7\\ 0.8\\ 1.0\\ 1.0\\ 0.8\\ 0.7\\ 0.9\\ 0.9\\ 0.7\\ 0.8\\ 1.0\\
0.8\\ 0.9\\ 1.0\\ 0.8\\ 0.7\\ 1.0\\ 0.9\\ 0.7\\ 0.6\\ 0.8\\ 1.0\\ 0.8\\ 0.8\\ 1.0\\ 0.4\\ 0.7\\ 0.9\\ 0.8\\ 0.7\\ 0.9\\
0.9\\ 1.0\\ 1.1\\ 0.9\\ 0.8\\ 1.0\\ 1.0\\ 1.2\\ 1.2\\ 1.4\\ 1.4\\ 1.6\\ 1.8\\ 1.4\\ 1.3\\ 1.8\\ 1.7\\ 1.4\\ 1.2\\ 1.0\\
0.9\\ 0.8\\ 0.7\\ 1.0\\ 1.1\\ 0.8\\ 0.8\\ 1.0\\ 1.0\\ 0.7\\ 0.7\\ 0.9\\ 1.0\\ 0.8\\ 0.8\\ 1.0\\ 0.9\\ 0.7\\ 0.7\\ 0.9\\
1.0\\ 0.8\\ 0.7\\ 0.9\\ 0.9\\ 0.7\\ 0.6\\ 0.9\\ 1.0\\ 0.8\\ 0.7\\ 0.9\\ 0.9\\ 0.7\\ 0.6\\ 0.8\\ 0.8\\ 1.0\\ 0.7\\ 0.9\\
0.9\\ 0.8\\ 0.7\\ 1.0\\ 1.0\\ 0.8\\ 0.8\\ 1.1\\ 1.1\\ 0.8\\ 0.7\\ 0.9\\ 0.9\\ 0.7\\ 0.6\\ 0.9\\ 1.0\\ 0.8\\ 0.8\\ 1.0\\
1.0\\ 0.8\\ 0.7\\ 0.9\\ 0.9\\ 0.7\\ 0.6\\ 0.9\\ 1.0\\ 0.8\\ 0.8\\ 1.0\\ 0.9\\ 0.7\\ 0.7\\ 0.9\\ 1.0\\ 0.8\\ 0.8\\ 1.0\\
0.9\\}\cK
\pgfplotstableread[row sep=\\]{y\\
1.2\\ 1.4\\ 1.0\\ 1.3\\ 1.6\\ 1.1\\ 1.4\\ 1.0\\ 1.3\\ 1.1\\ 1.3\\ 1.5\\ 1.1\\ 1.3\\ 1.5\\ 1.0\\ 1.3\\ 1.1\\ 1.4\\ 1.2\\
1.2\\ 1.5\\ 1.1\\ 1.3\\ 1.0\\ 1.4\\ 1.2\\ 1.5\\ 1.3\\ 1.2\\ 1.6\\ 1.3\\ 1.0\\ 1.3\\ 1.4\\ 1.1\\ 1.4\\ 1.2\\ 1.1\\ 1.3\\
1.3\\ 1.1\\ 1.4\\ 1.0\\ 1.2\\ 1.4\\ 1.0\\ 1.3\\ 1.3\\ 1.1\\ 1.4\\ 1.2\\ 1.0\\ 1.3\\ 1.4\\ 1.1\\ 1.3\\ 1.0\\ 1.4\\ 1.8\\
1.1\\ 1.4\\ 1.2\\ 1.0\\ 1.3\\ 1.1\\ 1.0\\ 1.4\\ 1.4\\ 1.2\\ 0.9\\ 1.2\\ 1.3\\ 1.1\\ 1.0\\ 1.3\\ 1.3\\ 1.1\\ 1.0\\ 1.3\\
1.1\\ 1.3\\ 0.8\\ 1.1\\ 1.3\\ 1.0\\ 1.1\\ 1.4\\ 1.4\\ 1.1\\ 1.0\\ 1.3\\ 1.3\\ 1.1\\ 1.1\\ 1.4\\ 1.5\\ 1.2\\ 1.0\\ 1.2\\
1.4\\ 1.2\\ 1.1\\ 1.7\\ 1.3\\ 1.2\\ 1.6\\ 1.3\\ 1.2\\ 1.9\\ 1.1\\ 1.3\\ 1.5\\ 1.2\\ 1.3\\ 1.5\\ 1.4\\ 1.2\\ 1.1\\ 1.7\\
1.3\\ 1.5\\ 1.5\\ 1.2\\ 1.1\\ 1.4\\ 1.4\\ 1.1\\ 1.0\\ 1.3\\ 1.5\\ 1.2\\ 1.2\\ 1.4\\ 1.4\\ 1.2\\ 1.0\\ 1.3\\ 1.3\\ 1.1\\
1.1\\ 1.4\\ 1.4\\ 1.2\\ 1.0\\ 1.3\\ 1.3\\ 1.1\\ 1.0\\ 1.2\\ 1.7\\ 1.3\\ 1.1\\ 1.4\\ 1.3\\ 1.1\\ 1.0\\ 1.3\\ 1.2\\ 1.4\\
1.2\\ 1.4\\ 1.4\\ 1.1\\ 1.1\\ 1.3\\ 1.3\\ 1.1\\ 1.0\\ 1.2\\ 1.2\\ 1.5\\ 1.9\\ 1.3\\ 1.1\\ 1.4\\ 1.4\\ 1.1\\ 1.0\\ 1.3\\
1.2\\ 1.0\\ 1.3\\ 1.5\\ 1.9\\ 1.3\\ 1.2\\ 1.0\\ 1.0\\ 1.3\\ 1.4\\ 1.2\\ 1.0\\ 1.3\\ 1.3\\ 1.1\\ 1.2\\ 1.4\\ 1.1\\ 1.3\\
1.2\\ 1.0\\ 1.3\\ 1.1\\ 1.1\\ 1.4\\ 1.4\\ 1.2\\ 1.0\\ 1.3\\ 1.3\\ 1.0\\ 1.1\\ 1.4\\ 1.3\\ 1.1\\ 1.2\\ 1.4\\ 1.0\\ 1.2\\
1.3\\ 1.0\\ 1.1\\ 1.4\\ 1.4\\ 1.2\\ 1.1\\ 1.4\\ 1.2\\ 1.5\\ 1.7\\ 1.2\\ 1.1\\ 1.3\\ 1.3\\ 1.1\\ 1.0\\ 1.2\\ 1.2\\ 1.0\\
1.2\\ 1.0\\ 1.1\\ 1.4\\ 1.4\\ 1.1\\ 1.0\\ 1.3\\ 1.3\\ 1.1\\ 1.1\\ 1.4\\ 1.3\\ 1.0\\ 1.0\\ 1.3\\ 1.2\\ 1.0\\ 1.1\\ 1.3\\
1.2\\ 1.4\\ 1.5\\ 1.2\\ 1.1\\ 1.3\\ 1.3\\ 1.0\\ 1.0\\ 1.3\\ 1.3\\ 1.1\\ 1.1\\ 1.4\\ 1.4\\ 1.1\\ 1.0\\ 1.3\\ 1.3\\ 1.1\\
1.1\\ 1.3\\ 1.3\\ 1.0\\ 1.0\\ 1.2\\ 1.2\\ 1.5\\ 1.7\\ 1.3\\ 1.3\\ 1.1\\ 1.1\\ 1.3\\ 0.9\\ 1.1\\ 1.2\\ 1.4\\ 1.0\\ 1.2\\
1.2\\ 1.0\\ 1.3\\ 1.2\\ 1.0\\ 1.3\\ 1.3\\ 1.1\\ 1.3\\ 1.4\\ 1.4\\ 1.5\\ 1.6\\ 1.5\\ 1.4\\ 1.6\\ 1.6\\ 1.4\\ 1.3\\ 1.2\\
1.2\\ 1.5\\ 1.6\\ 1.1\\ 1.0\\ 1.3\\ 1.3\\ 1.1\\ 1.1\\ 1.4\\ 1.3\\ 1.0\\ 1.0\\ 1.3\\ 1.4\\ 1.1\\ 1.1\\ 1.3\\ 1.2\\ 1.1\\
1.7\\ 1.2\\ 1.1\\ 1.3\\ 1.3\\ 1.0\\ 1.0\\ 1.3\\ 1.4\\ 1.1\\ 1.1\\ 1.3\\ 1.2\\ 1.0\\ 1.0\\ 1.3\\ 1.3\\ 1.1\\ 1.1\\ 1.3\\
1.3\\ 1.1\\ 1.1\\ 1.4\\ 1.4\\ 1.2\\ 1.2\\ 1.5\\ 1.5\\ 1.2\\ 1.2\\ 1.7\\ 1.6\\ 1.1\\ 1.1\\ 1.4\\ 1.4\\ 1.2\\ 1.2\\ 1.4\\
1.3\\ 1.1\\ 1.0\\ 1.3\\ 1.2\\ 1.0\\ 1.0\\ 1.4\\ 1.6\\ 1.1\\ 1.1\\ 1.3\\ 1.3\\ 1.0\\ 1.0\\ 1.3\\ 1.5\\ 1.2\\ 1.2\\ 1.4\\
1.3\\}\cR
\pgfplotstableread[row sep=\\]{y\\
1.0\\ 0.8\\ 1.2\\ 0.9\\ 1.1\\ 0.7\\ 1.0\\ 0.8\\ 1.2\\ 0.9\\ 1.1\\ 1.8\\ 1.0\\ 0.9\\ 1.2\\ 0.8\\ 1.1\\ 0.9\\ 1.2\\ 0.8\\
0.9\\ 1.2\\ 0.8\\ 1.1\\ 0.9\\ 1.2\\ 1.0\\ 1.3\\ 1.9\\ 1.1\\ 1.0\\ 1.3\\ 0.9\\ 1.2\\ 0.8\\ 1.1\\ 0.9\\ 1.2\\ 0.8\\ 1.0\\
1.1\\ 0.8\\ 1.2\\ 0.9\\ 1.0\\ 0.7\\ 1.1\\ 0.8\\ 1.0\\ 0.9\\ 1.2\\ 0.8\\ 1.1\\ 0.7\\ 1.0\\ 0.8\\ 1.1\\ 0.9\\ 1.0\\ 1.1\\
0.9\\ 1.1\\ 0.7\\ 1.0\\ 0.8\\ 1.1\\ 0.9\\ 1.2\\ 0.7\\ 1.0\\ 0.8\\ 1.1\\ 0.7\\ 0.9\\ 1.0\\ 0.8\\ 1.1\\ 0.7\\ 1.0\\ 0.9\\
0.8\\ 1.0\\ 0.3\\ 0.9\\ 0.7\\ 1.0\\ 0.6\\ 0.9\\ 1.0\\ 0.7\\ 0.9\\ 0.6\\ 1.0\\ 0.8\\ 1.1\\ 0.7\\ 0.9\\ 0.6\\ 1.0\\ 0.8\\
1.0\\ 0.8\\ 1.1\\ 0.9\\ 0.8\\ 1.2\\ 0.9\\ 1.1\\ 0.7\\ 1.0\\ 1.1\\ 0.8\\ 0.9\\ 1.2\\ 0.8\\ 1.0\\ 0.9\\ 1.1\\ 0.8\\ 1.2\\
1.0\\ 0.8\\ 1.1\\ 0.9\\ 0.8\\ 1.0\\ 0.7\\ 1.1\\ 1.1\\ 0.9\\ 0.9\\ 1.2\\ 1.0\\ 0.8\\ 0.7\\ 1.0\\ 0.9\\ 1.1\\ 0.7\\ 1.0\\
0.8\\ 1.0\\ 1.1\\ 0.8\\ 0.7\\ 1.0\\ 0.9\\ 1.1\\ 0.6\\ 0.9\\ 1.0\\ 0.7\\ 0.8\\ 1.0\\ 1.0\\ 0.8\\ 0.7\\ 0.9\\ 0.9\\ 1.1\\
0.9\\ 0.7\\ 1.1\\ 0.9\\ 0.8\\ 1.0\\ 1.0\\ 0.8\\ 0.4\\ 0.8\\ 0.9\\ 1.0\\ 1.1\\ 0.8\\ 0.8\\ 1.0\\ 1.0\\ 0.8\\ 0.7\\ 0.9\\
0.9\\ 0.7\\ 0.7\\ 1.0\\ 1.0\\ 0.8\\ 0.6\\ 0.9\\ 0.9\\ 0.7\\ 0.7\\ 1.0\\ 1.0\\ 0.8\\ 0.6\\ 0.9\\ 0.9\\ 0.7\\ 0.8\\ 1.0\\
0.9\\ 0.7\\ 0.5\\ 0.8\\ 0.8\\ 0.6\\ 0.6\\ 0.9\\ 0.9\\ 0.7\\ 0.4\\ 0.8\\ 0.8\\ 0.6\\ 0.6\\ 0.9\\ 0.9\\ 0.7\\ 0.7\\ 0.9\\
1.0\\ 0.8\\ 0.7\\ 1.0\\ 1.1\\ 0.9\\ 0.8\\ 1.0\\ 1.0\\ 1.2\\ 1.3\\ 0.9\\ 0.8\\ 1.0\\ 1.0\\ 0.8\\ 0.7\\ 0.9\\ 0.9\\ 1.0\\
1.0\\ 0.8\\ 0.8\\ 1.1\\ 1.2\\ 0.9\\ 0.7\\ 1.0\\ 1.0\\ 0.8\\ 0.8\\ 1.1\\ 1.1\\ 0.9\\ 0.7\\ 1.0\\ 0.9\\ 0.7\\ 0.8\\ 1.0\\
0.9\\ 0.8\\ 0.7\\ 0.9\\ 1.0\\ 0.7\\ 0.6\\ 0.9\\ 0.9\\ 0.7\\ 0.8\\ 1.0\\ 1.0\\ 0.8\\ 0.7\\ 0.9\\ 0.9\\ 0.7\\ 0.8\\ 1.0\\
0.8\\ 0.9\\ 1.0\\ 0.8\\ 0.7\\ 1.0\\ 0.9\\ 0.7\\ 0.6\\ 0.8\\ 1.0\\ 0.8\\ 0.8\\ 1.0\\ 0.4\\ 0.7\\ 0.9\\ 0.8\\ 0.7\\ 0.9\\
0.9\\ 1.0\\ 1.1\\ 0.9\\ 0.8\\ 1.0\\ 1.0\\ 1.2\\ 1.2\\ 1.4\\ 1.4\\ 1.6\\ 1.8\\ 1.4\\ 1.3\\ 1.8\\ 1.7\\ 1.4\\ 1.2\\ 1.0\\
0.9\\ 0.8\\ 0.7\\ 1.0\\ 1.1\\ 0.8\\ 0.8\\ 1.0\\ 1.0\\ 0.7\\ 0.7\\ 0.9\\ 1.0\\ 0.8\\ 0.8\\ 1.0\\ 0.9\\ 0.7\\ 0.7\\ 0.9\\
1.0\\ 0.8\\ 0.7\\ 0.9\\ 0.9\\ 0.7\\ 0.6\\ 0.9\\ 1.0\\ 0.8\\ 0.7\\ 0.9\\ 0.9\\ 0.7\\ 0.6\\ 0.8\\ 0.8\\ 1.0\\ 0.7\\ 0.9\\
0.9\\ 0.8\\ 0.7\\ 1.0\\ 1.0\\ 0.8\\ 0.8\\ 1.1\\ 1.1\\ 0.8\\ 0.7\\ 0.9\\ 0.9\\ 0.7\\ 0.6\\ 0.9\\ 1.0\\ 0.8\\ 0.8\\ 1.0\\
1.0\\ 0.8\\ 0.7\\ 0.9\\ 0.9\\ 0.7\\ 0.6\\ 0.9\\ 1.0\\ 0.8\\ 0.8\\ 1.0\\ 0.9\\ 0.7\\ 0.7\\ 0.9\\ 1.0\\ 0.8\\ 0.8\\ 1.0\\
0.9\\}\cG

% ---------- (d) Endo-S-CDG/2WB4 ----------
\pgfplotstableread[row sep=\\]{y\\
1.0\\ 0.8\\ 1.1\\ 0.9\\ 1.2\\ 0.8\\ 1.0\\ 0.9\\ 1.1\\ 0.8\\ 1.0\\ 0.9\\ 1.2\\ 0.8\\ 1.1\\ 0.9\\ 1.0\\ 0.8\\ 1.1\\ 1.0\\
0.9\\ 1.2\\ 1.0\\ 1.3\\ 0.9\\ 1.1\\ 1.2\\ 0.9\\ 1.1\\ 1.0\\ 1.3\\ 0.9\\ 1.2\\ 1.0\\ 1.1\\ 0.9\\ 1.2\\ 1.0\\ 0.8\\ 1.1\\
1.2\\ 1.0\\ 1.3\\ 1.1\\ 0.9\\ 1.2\\ 1.3\\ 1.0\\ 1.2\\ 1.1\\ 1.0\\ 1.3\\ 1.1\\ 1.2\\ 1.4\\ 1.0\\ 1.2\\ 1.1\\ 1.3\\ 1.0\\
1.3\\ 1.1\\ 1.5\\ 1.3\\ 1.4\\ 1.2\\ 1.3\\ 1.1\\ 1.2\\ 1.0\\ 1.3\\ 1.1\\ 1.2\\ 0.9\\ 1.0\\ 1.2\\ 1.0\\ 1.3\\ 1.1\\ 1.0\\
1.0\\ 1.2\\ 0.9\\ 1.1\\ 1.2\\ 0.9\\ 1.1\\ 1.0\\ 1.2\\ 0.9\\ 1.1\\ 1.3\\ 1.0\\ 1.1\\ 0.9\\ 1.2\\ 1.0\\ 0.9\\ 0.6\\ 0.9\\
1.1\\ 1.3\\ 1.0\\ 1.2\\ 1.1\\ 1.3\\ 1.0\\ 1.2\\ 1.3\\ 1.1\\ 1.2\\ 1.4\\ 1.2\\ 1.5\\ 1.3\\ 1.6\\ 2.1\\ 1.7\\ 1.4\\ 1.2\\
0.7\\ 1.0\\ 0.9\\ 1.2\\ 1.0\\ 0.9\\ 1.1\\ 0.8\\ 1.0\\ 0.9\\ 1.1\\ 0.8\\ 0.4\\ 0.7\\ 1.0\\ 0.9\\ 0.8\\ 1.0\\ 1.1\\ 0.9\\
0.9\\ 1.1\\ 0.8\\ 1.0\\ 0.9\\ 1.1\\ 1.0\\ 0.8\\ 0.9\\ 1.2\\ 1.0\\ 0.8\\ 0.8\\ 1.0\\ 0.9\\ 1.1\\ 0.9\\ 0.8\\ 1.1\\ 1.0\\
0.9\\ 1.1\\ 1.0\\ 0.8\\ 1.0\\ 0.9\\ 1.1\\ 0.8\\ 0.9\\ 1.0\\ 1.3\\ 1.0\\ 0.9\\ 1.1\\ 1.0\\ 0.8\\ 0.8\\ 1.0\\ 1.1\\ 0.9\\
1.0\\ 0.8\\ 1.1\\ 0.9\\ 0.9\\ 1.1\\ 1.0\\ 0.8\\ 0.8\\ 1.0\\ 1.1\\ 0.9\\ 1.1\\ 0.8\\ 0.9\\ 1.0\\ 1.0\\ 0.8\\ 0.9\\ 1.1\\
1.0\\ 0.8\\ 1.1\\ 0.9\\ 0.9\\ 1.1\\ 1.0\\ 0.8\\ 0.8\\ 1.0\\ 1.1\\ 0.9\\ 0.9\\ 1.1\\ 1.0\\ 0.8\\ 1.2\\ 1.0\\ 1.8\\ 1.1\\
1.0\\ 1.1\\ 0.9\\ 1.2\\ 1.0\\ 0.9\\ 1.1\\ 1.0\\ 1.0\\ 1.2\\ 0.8\\ 0.9\\ 1.0\\ 1.2\\ 1.2\\ 0.9\\ 0.9\\ 1.1\\ 1.0\\ 0.8\\
1.0\\ 1.2\\ 0.9\\ 1.1\\ 1.0\\ 0.8\\ 1.1\\ 1.0\\ 0.8\\ 1.0\\ 1.1\\ 1.0\\ 1.0\\ 1.2\\ 1.2\\ 0.9\\ 0.9\\ 1.1\\ 1.1\\ 0.9\\
1.0\\ 1.2\\ 0.9\\ 1.0\\ 1.1\\ 0.9\\ 1.3\\ 1.0\\ 1.0\\ 1.2\\ 1.2\\ 1.0\\ 0.9\\ 1.1\\ 1.1\\ 0.9\\ 1.0\\ 1.2\\ 1.0\\ 0.9\\
1.4\\ 1.0\\ 1.0\\ 1.2\\ 1.2\\ 0.9\\ 0.9\\ 1.1\\ 1.1\\ 1.0\\ 1.2\\ 0.9\\ 0.9\\ 1.1\\ 1.0\\ 0.8\\ 1.0\\ 1.1\\ 0.9\\ 0.8\\
0.9\\ 1.1\\ 1.0\\ 0.8\\ 0.8\\ 1.0\\ 1.0\\ 0.9\\ 0.9\\ 1.1\\ 1.1\\ 0.8\\ 0.8\\ 1.0\\ 1.0\\ 0.9\\ 0.9\\ 1.0\\ 1.1\\ 0.9\\
1.0\\ 1.1\\ 1.1\\ 0.9\\ 0.9\\ 1.2\\ 1.2\\ 1.0\\ 1.0\\ 1.1\\ 1.1\\ 0.9\\ 0.9\\ 1.0\\ 1.0\\ 1.2\\ 1.1\\ 0.9\\ 0.9\\ 1.0\\
1.0\\ 0.9\\ 0.9\\ 1.1\\ 1.1\\ 0.8\\ 0.8\\ 1.0\\ 1.0\\ 0.9\\ 0.9\\ 1.1\\ 1.1\\ 0.8\\ 0.8\\ 1.0\\ 1.0\\ 0.9\\ 0.9\\ 1.0\\
1.0\\ 1.2\\ 1.2\\ 0.9\\ 0.9\\ 1.1\\ 1.2\\ 1.0\\ 1.0\\ 1.3\\ 1.1\\ 1.0\\ 1.0\\ 1.3\\ 1.3\\ 1.1\\ 1.1\\ 1.2\\ 1.0\\ 1.1\\
1.2\\ 1.4\\ 1.1\\ 1.3\\ 1.1\\ 1.4\\ 1.2\\ 1.3\\ 1.4\\ 1.2\\ 1.1\\ 1.4\\ 1.5\\ 1.3\\ 1.2\\ 1.4\\ 1.4\\ 1.2\\ 1.3\\ 1.6\\
1.9\\}\dK
\pgfplotstableread[row sep=\\]{y\\
1.3\\ 1.1\\ 1.9\\ 1.7\\ 1.4\\ 1.3\\ 1.2\\ 1.5\\ 1.3\\ 1.6\\ 1.2\\ 1.5\\ 1.4\\ 1.3\\ 1.6\\ 1.2\\ 1.5\\ 1.4\\ 1.3\\ 1.6\\
1.3\\ 1.6\\ 1.4\\ 1.5\\ 1.2\\ 1.6\\ 1.4\\ 1.3\\ 1.5\\ 1.2\\ 1.4\\ 1.6\\ 1.3\\ 1.5\\ 1.2\\ 1.6\\ 1.4\\ 1.2\\ 1.5\\ 1.3\\
1.4\\ 1.3\\ 1.6\\ 1.4\\ 1.5\\ 1.3\\ 1.6\\ 1.4\\ 1.5\\ 1.3\\ 1.9\\ 1.5\\ 1.4\\ 1.6\\ 1.3\\ 1.5\\ 1.6\\ 1.3\\ 1.5\\ 1.4\\
1.6\\ 1.8\\ 2.1\\ 1.9\\ 1.7\\ 1.5\\ 1.4\\ 1.6\\ 1.3\\ 1.5\\ 1.4\\ 1.6\\ 1.2\\ 1.4\\ 1.3\\ 1.5\\ 1.4\\ 1.2\\ 1.4\\ 1.3\\
1.3\\ 1.5\\ 1.2\\ 1.4\\ 1.3\\ 1.5\\ 1.2\\ 1.4\\ 1.5\\ 1.3\\ 1.4\\ 1.6\\ 1.8\\ 1.4\\ 1.3\\ 1.5\\ 1.2\\ 1.3\\ 0.5\\ 1.1\\
1.2\\ 1.4\\ 1.1\\ 1.3\\ 1.3\\ 1.5\\ 1.2\\ 1.4\\ 1.4\\ 1.3\\ 1.3\\ 1.5\\ 1.4\\ 1.6\\ 1.6\\ 1.4\\ 1.6\\ 1.5\\ 1.4\\ 1.3\\
0.9\\ 1.1\\ 1.1\\ 1.3\\ 1.0\\ 1.2\\ 1.2\\ 1.0\\ 1.0\\ 1.2\\ 1.0\\ 1.1\\ 0.5\\ 0.9\\ 1.2\\ 1.0\\ 0.9\\ 1.1\\ 1.2\\ 1.0\\
1.1\\ 1.3\\ 1.0\\ 1.2\\ 1.1\\ 1.3\\ 1.2\\ 1.0\\ 1.1\\ 1.4\\ 1.2\\ 1.0\\ 1.0\\ 1.2\\ 1.1\\ 1.3\\ 1.1\\ 1.0\\ 1.3\\ 1.2\\
1.1\\ 1.3\\ 1.2\\ 1.0\\ 1.3\\ 1.1\\ 1.2\\ 1.0\\ 1.1\\ 1.3\\ 1.6\\ 1.2\\ 1.1\\ 1.3\\ 1.2\\ 1.0\\ 1.0\\ 1.3\\ 1.4\\ 1.1\\
1.2\\ 1.0\\ 1.4\\ 1.1\\ 1.1\\ 1.3\\ 1.3\\ 1.0\\ 1.0\\ 1.2\\ 1.3\\ 1.1\\ 1.3\\ 1.0\\ 1.1\\ 1.3\\ 1.8\\ 1.2\\ 1.2\\ 1.4\\
1.2\\ 1.0\\ 1.4\\ 1.1\\ 1.1\\ 1.3\\ 1.3\\ 1.0\\ 1.0\\ 1.2\\ 1.3\\ 1.1\\ 1.1\\ 1.3\\ 1.3\\ 1.0\\ 1.4\\ 1.2\\ 1.5\\ 1.3\\
1.3\\ 1.4\\ 1.1\\ 1.4\\ 1.7\\ 1.2\\ 1.4\\ 1.2\\ 1.2\\ 1.5\\ 1.1\\ 1.2\\ 1.3\\ 1.5\\ 1.5\\ 1.2\\ 1.2\\ 1.4\\ 1.3\\ 1.1\\
1.3\\ 1.5\\ 1.2\\ 1.4\\ 1.4\\ 1.1\\ 1.4\\ 1.3\\ 1.6\\ 1.3\\ 1.3\\ 1.2\\ 1.3\\ 1.5\\ 1.5\\ 1.2\\ 1.2\\ 1.4\\ 1.4\\ 1.2\\
1.3\\ 1.5\\ 1.2\\ 1.3\\ 1.4\\ 1.2\\ 1.8\\ 1.3\\ 1.3\\ 1.5\\ 1.6\\ 1.3\\ 1.2\\ 1.4\\ 1.5\\ 1.2\\ 1.3\\ 1.5\\ 1.3\\ 1.2\\
1.9\\ 1.4\\ 1.3\\ 1.5\\ 1.5\\ 1.2\\ 1.2\\ 1.4\\ 1.4\\ 1.3\\ 1.6\\ 1.3\\ 1.4\\ 2.0\\ 1.5\\ 1.2\\ 1.3\\ 1.4\\ 1.2\\ 1.1\\
1.0\\ 1.2\\ 1.1\\ 1.0\\ 1.0\\ 1.2\\ 1.2\\ 1.1\\ 1.1\\ 1.3\\ 1.3\\ 1.0\\ 1.0\\ 1.2\\ 1.2\\ 1.1\\ 1.0\\ 1.1\\ 1.2\\ 1.0\\
1.1\\ 1.4\\ 1.3\\ 1.0\\ 1.0\\ 1.3\\ 1.3\\ 1.1\\ 1.1\\ 1.2\\ 1.2\\ 1.0\\ 1.0\\ 1.2\\ 1.2\\ 1.4\\ 1.3\\ 1.1\\ 1.1\\ 1.2\\
1.1\\ 1.2\\ 1.2\\ 1.3\\ 1.3\\ 1.0\\ 1.0\\ 1.2\\ 1.2\\ 1.1\\ 1.1\\ 1.3\\ 1.3\\ 1.0\\ 1.0\\ 1.2\\ 1.2\\ 1.1\\ 1.1\\ 1.2\\
1.3\\ 1.4\\ 1.4\\ 1.2\\ 1.2\\ 1.3\\ 1.5\\ 1.2\\ 1.2\\ 1.6\\ 1.3\\ 1.2\\ 1.3\\ 1.6\\ 1.5\\ 1.3\\ 1.3\\ 1.4\\ 1.2\\ 1.3\\
2.1\\ 1.5\\ 1.4\\ 1.3\\ 1.3\\ 1.5\\ 1.3\\ 1.4\\ 1.6\\ 1.3\\ 1.3\\ 1.5\\ 1.6\\ 1.4\\ 1.3\\ 1.5\\ 1.5\\ 1.3\\ 1.4\\ 1.4\\
1.5\\}\dR
\pgfplotstableread[row sep=\\]{y\\
1.0\\ 0.8\\ 1.1\\ 0.9\\ 1.2\\ 0.8\\ 1.0\\ 0.9\\ 1.1\\ 0.8\\ 1.0\\ 0.9\\ 1.2\\ 0.8\\ 1.1\\ 0.9\\ 1.0\\ 0.8\\ 1.1\\ 1.0\\
0.9\\ 1.2\\ 1.0\\ 1.3\\ 0.9\\ 1.1\\ 1.2\\ 0.9\\ 1.1\\ 1.0\\ 1.3\\ 0.9\\ 1.2\\ 1.0\\ 1.1\\ 0.9\\ 1.2\\ 1.0\\ 0.8\\ 1.1\\
1.2\\ 1.0\\ 1.3\\ 1.1\\ 0.9\\ 1.2\\ 1.3\\ 1.0\\ 1.2\\ 1.1\\ 1.0\\ 1.3\\ 1.1\\ 1.2\\ 1.4\\ 1.0\\ 1.2\\ 1.1\\ 1.3\\ 1.0\\
1.3\\ 1.1\\ 1.5\\ 1.3\\ 1.4\\ 1.2\\ 1.3\\ 1.1\\ 1.2\\ 1.0\\ 1.3\\ 1.1\\ 1.2\\ 0.9\\ 1.0\\ 1.2\\ 1.0\\ 1.3\\ 1.1\\ 1.0\\
1.0\\ 1.2\\ 0.9\\ 1.1\\ 1.2\\ 0.9\\ 1.1\\ 1.0\\ 1.2\\ 0.9\\ 1.1\\ 1.3\\ 1.0\\ 1.1\\ 0.9\\ 1.2\\ 1.0\\ 0.9\\ 0.6\\ 0.9\\
1.1\\ 1.3\\ 1.0\\ 1.2\\ 1.1\\ 1.3\\ 1.0\\ 1.2\\ 1.3\\ 1.1\\ 1.2\\ 1.4\\ 1.2\\ 1.5\\ 1.3\\ 1.6\\ 2.1\\ 1.7\\ 1.4\\ 1.2\\
0.7\\ 1.0\\ 0.9\\ 1.2\\ 1.0\\ 0.9\\ 1.1\\ 0.8\\ 1.0\\ 0.9\\ 1.1\\ 0.8\\ 0.4\\ 0.7\\ 1.0\\ 0.9\\ 0.8\\ 1.0\\ 1.1\\ 0.9\\
0.9\\ 1.1\\ 0.8\\ 1.0\\ 0.9\\ 1.1\\ 1.0\\ 0.8\\ 0.9\\ 1.2\\ 1.0\\ 0.8\\ 0.8\\ 1.0\\ 0.9\\ 1.1\\ 0.9\\ 0.8\\ 1.1\\ 1.0\\
0.9\\ 1.1\\ 1.0\\ 0.8\\ 1.0\\ 0.9\\ 1.1\\ 0.8\\ 0.9\\ 1.0\\ 1.3\\ 1.0\\ 0.9\\ 1.1\\ 1.0\\ 0.8\\ 0.8\\ 1.0\\ 1.1\\ 0.9\\
1.0\\ 0.8\\ 1.1\\ 0.9\\ 0.9\\ 1.1\\ 1.0\\ 0.8\\ 0.8\\ 1.0\\ 1.1\\ 0.9\\ 1.1\\ 0.8\\ 0.9\\ 1.0\\ 1.0\\ 0.8\\ 0.9\\ 1.1\\
1.0\\ 0.8\\ 1.1\\ 0.9\\ 0.9\\ 1.1\\ 1.0\\ 0.8\\ 0.8\\ 1.0\\ 1.1\\ 0.9\\ 0.9\\ 1.1\\ 1.0\\ 0.8\\ 1.2\\ 1.0\\ 1.8\\ 1.1\\
1.0\\ 1.1\\ 0.9\\ 1.2\\ 1.0\\ 0.9\\ 1.1\\ 1.0\\ 1.0\\ 1.2\\ 0.8\\ 0.9\\ 1.0\\ 1.2\\ 1.2\\ 0.9\\ 0.9\\ 1.1\\ 1.0\\ 0.8\\
1.0\\ 1.2\\ 0.9\\ 1.1\\ 1.0\\ 0.8\\ 1.1\\ 1.0\\ 0.8\\ 1.0\\ 1.1\\ 1.0\\ 1.0\\ 1.2\\ 1.2\\ 0.9\\ 0.9\\ 1.1\\ 1.1\\ 0.9\\
1.0\\ 1.2\\ 0.9\\ 1.0\\ 1.1\\ 0.9\\ 1.3\\ 1.0\\ 1.0\\ 1.2\\ 1.2\\ 1.0\\ 0.9\\ 1.1\\ 1.1\\ 0.9\\ 1.0\\ 1.2\\ 1.0\\ 0.9\\
1.4\\ 1.0\\ 1.0\\ 1.2\\ 1.2\\ 0.9\\ 0.9\\ 1.1\\ 1.1\\ 1.0\\ 1.2\\ 0.9\\ 0.9\\ 1.1\\ 1.0\\ 0.8\\ 1.0\\ 1.1\\ 0.9\\ 0.8\\
0.9\\ 1.1\\ 1.0\\ 0.8\\ 0.8\\ 1.0\\ 1.0\\ 0.9\\ 0.9\\ 1.1\\ 1.1\\ 0.8\\ 0.8\\ 1.0\\ 1.0\\ 0.9\\ 0.9\\ 1.0\\ 1.1\\ 0.9\\
1.0\\ 1.1\\ 1.1\\ 0.9\\ 0.9\\ 1.2\\ 1.2\\ 1.0\\ 1.0\\ 1.1\\ 1.1\\ 0.9\\ 0.9\\ 1.0\\ 1.0\\ 1.2\\ 1.1\\ 0.9\\ 0.9\\ 1.0\\
1.0\\ 0.9\\ 0.9\\ 1.1\\ 1.1\\ 0.8\\ 0.8\\ 1.0\\ 1.0\\ 0.9\\ 0.9\\ 1.1\\ 1.1\\ 0.8\\ 0.8\\ 1.0\\ 1.0\\ 0.9\\ 0.9\\ 1.0\\
1.0\\ 1.2\\ 1.2\\ 0.9\\ 0.9\\ 1.1\\ 1.2\\ 1.0\\ 1.0\\ 1.3\\ 1.1\\ 1.0\\ 1.0\\ 1.3\\ 1.3\\ 1.1\\ 1.1\\ 1.2\\ 1.0\\ 1.1\\
1.2\\ 1.4\\ 1.1\\ 1.3\\ 1.1\\ 1.4\\ 1.2\\ 1.3\\ 1.4\\ 1.2\\ 1.1\\ 1.4\\ 1.5\\ 1.3\\ 1.2\\ 1.4\\ 1.4\\ 1.2\\ 1.3\\ 1.6\\
1.9\\}\dG

\pgfplotsset{
  rmsdpanel/.style={
    scale only axis, width=845pt, height=148.6pt,
    anchor=south west,
    xmin=0, xmax=20, ymin=0, ymax=5,
    axis line style={line width=1.6pt},
    every tick/.style={line width=1.4pt, black},
    major tick length=16pt, minor tick length=8pt,
    tick align=inside,
    ytick={2,4}, minor ytick={1,3},
    /pgf/number format/assume math mode=true,
    ticklabel style={font=\bfseries\fontsize{19}{19}\selectfont},
    yticklabel style={inner sep=0pt, xshift=-8pt},
    xticklabel style={inner sep=0pt, yshift=-12pt},
  },
  trace/.style={line width=1.8pt, line join=round},
}
% black, red and green traces of one panel
\newcommand{\traces}[3]{%
  \addplot[trace, black] table[x expr=\coordindex*0.05, y=y] {#1};
  \addplot[trace, rd] table[x expr=\coordindex*0.05, y=y] {#2};
  \addplot[trace, gr] table[x expr=\coordindex*0.05, y=y] {#3};
}

\begin{document}
\begin{tikzpicture}
\useasboundingbox (0,0) rectangle (947pt,668pt);

\begin{axis}[rmsdpanel, at={(87pt,504.5pt)},
  xtick={0,1,...,20}, xticklabels={}]
  \traces{\aK}{\aR}{\aG}
\end{axis}

\begin{axis}[rmsdpanel, at={(87pt,355.9pt)},
  xtick={0,1,...,20}, xticklabels={}]
  \traces{\bK}{\bR}{\bG}
\end{axis}

\begin{axis}[rmsdpanel, at={(87pt,207.3pt)},
  xtick={0,2,...,20}, minor xtick={1,3,...,19}, xticklabels={}]
  \traces{\cK}{\cR}{\cG}
\end{axis}

\begin{axis}[rmsdpanel, at={(87pt,58.7pt)},
  ytick={0,2,4}, major tick length=15pt, minor tick length=7pt,
  xtick={0,5,...,20}, minor xtick={2.5,7.5,12.5,17.5}]
  \traces{\dK}{\dR}{\dG}
\end{axis}

\begin{scope}[every node/.style={inner sep=0pt, anchor=base west,
    font=\bfseries\fontsize{20.5}{20.5}\selectfont}]
  \node at (116pt,624.5pt) {(a) CDG/1W25};
  \node at (115pt,478.7pt) {(b) Endo-S-CDG/1W25};
  \node at (112pt,327.3pt) {(c) CDG/2WB4};
  \node at (113pt,175.7pt) {(d) Endo-S-CDG/2WB4};
\end{scope}

\node[inner sep=0pt, anchor=base, font=\bfseries\fontsize{21}{21}\selectfont]
  at (509.5pt,6.3pt) {Time/[[ns]};
\node[inner sep=0pt, anchor=base, rotate=90, font=\bfseries\fontsize{21}{21}\selectfont]
  at (33.5pt,362pt) {RMSD/[Å]};
\end{tikzpicture}
\end{document}
